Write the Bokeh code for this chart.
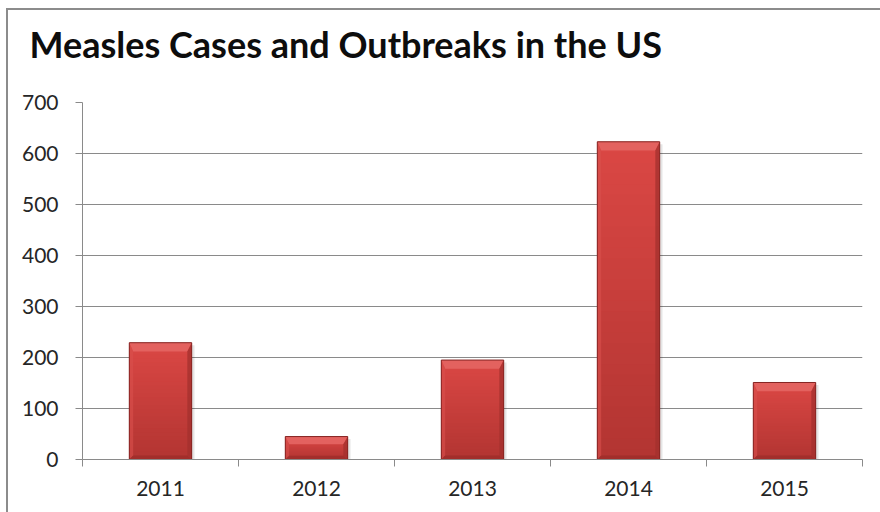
import numpy as np
from bokeh.plotting import figure
from bokeh.models import FixedTicker, Range1d, Title
from bokeh.embed import file_html
from bokeh.resources import INLINE

# Reported measles cases per year
years = ["2011", "2012", "2013", "2014", "2015"]
cases = [229, 45, 195, 623, 151]
y_ticks = [0, 100, 200, 300, 400, 500, 600, 700]

GRID = "#8a8a8a"
FRAME = "#8c8c8c"
FONT = "Lato"

# chart border (left and top edges) painted behind a transparent canvas
border_css = (f"linear-gradient({FRAME},{FRAME}) 6px 8px / 2px 100% no-repeat, "
              f"linear-gradient({FRAME},{FRAME}) 6px 8px / 100% 2px no-repeat, white")

p = figure(width=880, height=512, output_backend="svg", toolbar_location=None,
           x_range=Range1d(0, len(years)), y_range=Range1d(0, 700),
           min_border_left=82, min_border_right=18,
           min_border_top=102, min_border_bottom=53,
           styles={"background": border_css})
p.outline_line_color = None
p.background_fill_color = "white"
p.border_fill_color = None

# title
p.title.text = "Measles Cases and Outbreaks in the US"
p.title.text_font = FONT
p.title.text_font_style = "bold"
p.title.text_font_size = "36px"
p.title.text_color = "#0d0d0d"
p.title.align = "left"
p.title.vertical_align = "top"
p.title.offset = -53
p.title.standoff = 0

# blank panel keeping a gap between the title and the plot area
p.add_layout(Title(text=" ", text_font_size="24px", standoff=6), "above")

# y axis
p.yaxis.ticker = FixedTicker(ticks=y_ticks)
p.yaxis.axis_line_color = GRID
p.yaxis.major_tick_line_color = GRID
p.yaxis.major_tick_out = 7
p.yaxis.major_tick_in = 0
p.yaxis.minor_tick_line_color = None
p.yaxis.major_label_text_font = FONT
p.yaxis.major_label_text_font_size = "21px"
p.yaxis.major_label_text_color = "#262626"
p.yaxis.major_label_standoff = 17
p.ygrid.ticker = FixedTicker(ticks=y_ticks)
p.ygrid.grid_line_color = GRID
p.xgrid.grid_line_color = None

# x axis: labels at bar centres, tick marks between categories
centers = [i + 0.5 for i in range(len(years))]
p.xaxis.ticker = FixedTicker(ticks=centers, minor_ticks=list(range(len(years) + 1)))
p.xaxis.major_label_overrides = {c: y for c, y in zip(centers, years)}
p.xaxis.axis_line_color = GRID
p.xaxis.major_tick_line_color = None
p.xaxis.minor_tick_line_color = GRID
p.xaxis.minor_tick_out = 7
p.xaxis.minor_tick_in = 0
p.xaxis.major_label_text_font = FONT
p.xaxis.major_label_text_font_size = "21px"
p.xaxis.major_label_text_color = "#262626"
p.xaxis.major_label_standoff = 14

# bevelled bars
hw = 0.2          # half bar width (category units)
dxl = 0.025       # left bevel width
dxr = 0.028       # right bevel width
dyt = 17.0        # top bevel height (value units)
dyb = 8.0         # bottom bevel height
n_slices = 30
top_col = np.array([0xDA, 0x47, 0x44])
bot_col = np.array([0xB3, 0x35, 0x32])

def hexcol(c):
    return "#%02x%02x%02x" % tuple(int(round(v)) for v in c)

for c, v in zip(centers, cases):
    L, R = c - hw, c + hw
    # soft shadow
    p.quad(left=L + 0.01, right=R + 0.018, bottom=-5, top=v - 5,
           fill_color="black", fill_alpha=0.10, line_color=None)
    # body with vertical shading, overlapping slices to avoid seams
    edges = np.linspace(v, 0, n_slices + 1)
    for k in range(n_slices):
        t = k / (n_slices - 1)
        col = hexcol(top_col * (1 - t) + bot_col * t)
        p.quad(left=L, right=R, top=edges[k], bottom=0,
               fill_color=col, line_color=None)
    t_h = min(dyt, v / 3)
    b_h = min(dyb, v / 6)
    # top, left, right, bottom bevels
    p.patches(xs=[[L, R, R - dxr, L + dxl],
                  [L, L + dxl, L + dxl, L],
                  [R, R, R - dxr, R - dxr],
                  [L, L + dxl, R - dxr, R]],
              ys=[[v, v, v - t_h, v - t_h],
                  [v, v - t_h, b_h, 0],
                  [v, 0, b_h, v - t_h],
                  [0, b_h, b_h, 0]],
              fill_color=["#e46461", "#d9504d", "#a3302d", "#9c2c2a"],
              fill_alpha=[0.95, 0.6, 0.75, 0.75], line_color=None)
    p.quad(left=L, right=R, bottom=0, top=v, fill_color=None,
           line_color="#862523", line_width=1)

open("out.html", "w").write(file_html(p, INLINE))
